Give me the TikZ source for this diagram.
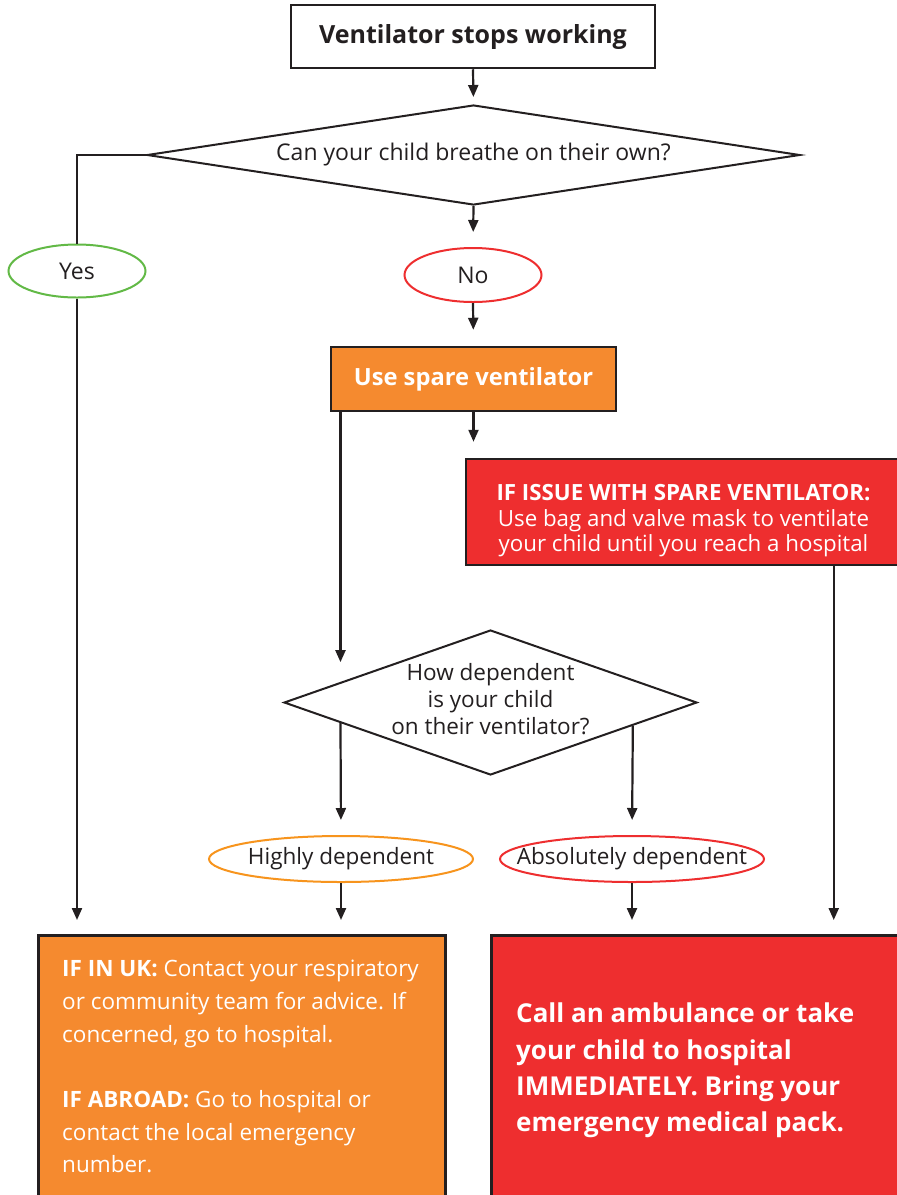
\documentclass[tikz,border=0pt]{standalone}
\usepackage{fontspec}
\setmainfont{Open Sans}
\usetikzlibrary{shapes.geometric,arrows.meta,calc}
\definecolor{ink}{HTML}{231F20}
\definecolor{orfill}{HTML}{F58A2F}
\definecolor{rdfill}{HTML}{EE2E2F}
\definecolor{grn}{HTML}{62B946}
\definecolor{orln}{HTML}{F7941D}
\definecolor{rdln}{HTML}{EE2E2F}
\begin{document}
\begin{tikzpicture}[x=1pt,y=-1pt,
  conn/.style={draw=ink,line width=2.2pt},
  arr/.style={conn,-{Triangle[length=12pt,width=10pt]}},
  boxx/.style={rectangle,draw=ink,line width=2.5pt,inner sep=0pt},
  dia/.style={diamond,draw=ink,line width=2pt,inner sep=0pt,fill=white},
  oval/.style={ellipse,line width=2pt,inner sep=0pt,fill=white},
  reg/.style={font=\fontsize{23}{26}\selectfont},
  smallreg/.style={font=\fontsize{22.5}{26}\selectfont},
  bld/.style={font=\bfseries\fontsize{25}{28}\selectfont}
]
\useasboundingbox (0,0) rectangle (897,1195);

% boxes and shapes
\node[boxx,fill=white,minimum width=364pt,minimum height=63pt,bld,text=ink] (start) at (473,36.5) {\raisebox{-1pt}[\height][\depth]{Ventilator stops working}};

\node[dia,minimum width=653pt,minimum height=100pt,aspect=6.5,reg,text=ink] (d1) at (473.5,155) {\makebox[0pt]{Can your child breathe on their own?}};

\node[oval,draw=grn,minimum width=137pt,minimum height=53pt,reg,text=ink] (yes) at (77,271) {\makebox[0pt]{Yes}};
\node[oval,draw=rdln,minimum width=137pt,minimum height=54pt,reg,text=ink] (no) at (473,275) {\makebox[0pt]{No}};

\node[boxx,fill=orfill,minimum width=285pt,minimum height=64pt,font=\bfseries\fontsize{23.7}{28}\selectfont,text=white] (usb) at (473.5,379) {Use spare ventilator};

\node[boxx,fill=rdfill,minimum width=439pt,minimum height=106pt,text=white,font=\fontsize{22.3}{25.5}\selectfont] (rb1) at (685.5,512)
  {\hspace*{-4pt}\raisebox{-9pt}[\height][\depth]{\begin{tabular}{@{}c@{}}\textbf{IF ISSUE WITH SPARE VENTILATOR:}\\
  Use bag and valve mask to ventilate\\
  your child until you reach a hospital\end{tabular}}};

\node[dia,minimum width=413pt,minimum height=145pt,aspect=2.85,text=ink,font=\fontsize{22.5}{27}\selectfont] (d2) at (490.5,702.5)
  {\makebox[0pt]{\begin{tabular}{@{}c@{}}How dependent\\
  is your child\\
  on their ventilator?\end{tabular}}};

\node[oval,draw=orln,minimum width=264pt,minimum height=46pt,smallreg,text=ink] (hd) at (341,859) {\makebox[0pt]{Highly dependent}};
\node[oval,draw=rdln,minimum width=264pt,minimum height=46pt,smallreg,text=ink] (ad) at (632,859) {\makebox[0pt]{Absolutely dependent}};

\node[boxx,fill=orfill,minimum width=407pt,minimum height=290pt,anchor=north west] (ob) at (37,934) {};
\node[anchor=north west,inner sep=0pt,align=left,text=white,font=\fontsize{22.5}{32.7}\selectfont] (obt) at ($(ob.north west)+(25,26)$)
  {\textbf{IF IN UK:} Contact your respiratory\\
   or community team for advice. If\\
   concerned, go to hospital.\\[32.7pt]
   \textbf{IF ABROAD:} Go to hospital or\\
   contact the local emergency\\
   number.};

\node[boxx,fill=rdfill,minimum width=420pt,minimum height=290pt,anchor=north west] (rb2) at (490,934) {};
\node[anchor=north west,inner sep=0pt,align=left,text=white,font=\bfseries\fontsize{26}{36.3}\selectfont] (rbt) at ($(rb2.north west)+(26,69)$)
  {Call an ambulance or take\\
   your child to hospital\\
   IMMEDIATELY. Bring your\\
   emergency medical pack.};

% helper points on diamond 2 edges
\coordinate (p1) at ($(d2.west)!0.277!(d2.north)$);
\coordinate (p2) at ($(d2.west)!0.277!(d2.south)$);
\coordinate (p3) at ($(d2.east)!0.314!(d2.south)$);
\coordinate (p4) at ($(rb1.south west)+(369,0)$);

% connectors
\draw[arr,shorten >=7pt] (start.south) -- (d1.north);
\draw[conn] (d1.west) -| (yes.north);
\draw[arr,shorten >=14pt] (yes.south) -- (yes.south |- ob.north);
\draw[arr,shorten >=15pt] (d1.south) -- (no.north);
\draw[arr,shorten >=16pt] (no.south) -- (usb.north);
\draw[arr,shorten >=16pt] (usb.south) -- (usb.south |- rb1.north);
\draw[arr,shorten >=20pt] (usb.south west -| p1) -- (p1);
\draw[arr,shorten >=15pt] (p2) -- (hd.north);
\draw[arr,shorten >=15pt] (p3) -- (ad.north);
\draw[arr,shorten >=14pt] (hd.south) -- (hd.south |- ob.north);
\draw[arr,shorten >=14pt] (ad.south) -- (ad.south |- rb2.north);
\draw[arr,shorten >=14pt] (p4) -- (p4 |- rb2.north);
\end{tikzpicture}
\end{document}
